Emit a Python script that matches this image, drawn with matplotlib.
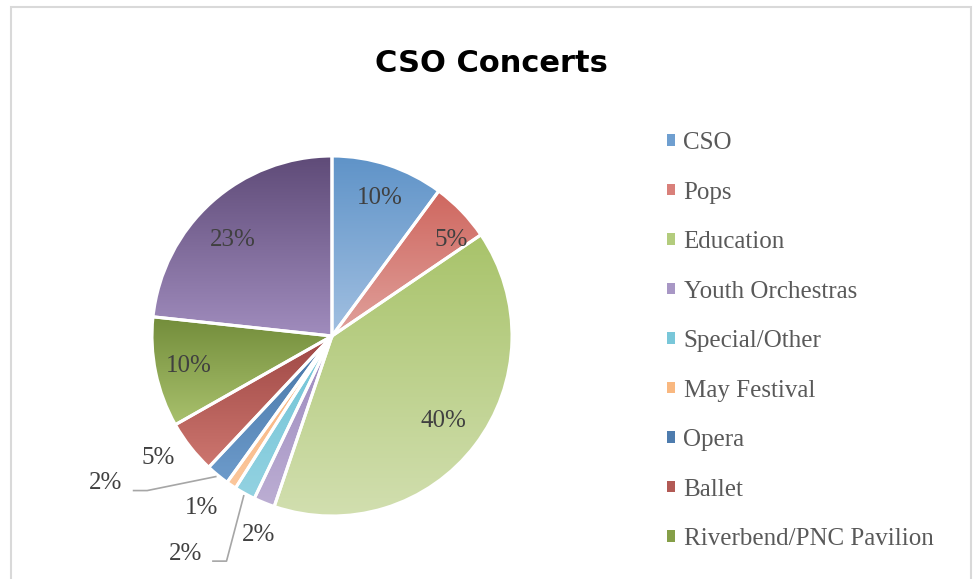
import numpy as np
import matplotlib
matplotlib.use("Agg")
import matplotlib.pyplot as plt
from matplotlib.colors import LinearSegmentedColormap
from matplotlib.patches import Rectangle

# slices, clockwise from 12 o'clock
categories = ["CSO", "Pops", "Education", "Youth Orchestras", "Special/Other",
              "May Festival", "Opera", "Ballet", "Riverbend/PNC Pavilion", "Other"]
shares = [10.1, 5.4, 39.7, 1.9, 1.9, 0.9, 2.1, 4.8, 9.9, 23.3]
n_legend = 9  # the last legend entry is cut off in the original

# (top colour, bottom colour) of each slice's vertical gradient
grad_colors = [
    ("#5f93c8", "#a2c0e1"),
    ("#cf675f", "#e0a19c"),
    ("#a8c36a", "#d2dfb0"),
    ("#9a86bd", "#bcaed3"),
    ("#6fc3d6", "#93d2e1"),
    ("#f7ad73", "#fbc79c"),
    ("#4675a6", "#6d9bcb"),
    ("#9e4744", "#cd766f"),
    ("#738d3b", "#a9c16d"),
    ("#5f4b78", "#a08cbd"),
]
legend_colors = ["#6f9fd0", "#d9807a", "#b3cc7d", "#a897c5", "#79c7d9",
                 "#f9b880", "#4e7cae", "#b25a55", "#859f48"]

# label placement: radius (pie radii), clockwise shift from slice middle (deg),
# and whether a leader line is drawn
label_r = [0.81, 0.85, 0.78, 1.18, 1.46, 1.2, 1.5, 1.18, 0.81, 0.77]
label_shift = [1, 5, 0, -2, 5, 3, 17.5, 3, 0, -4]
leader = [False, False, False, False, True, False, True, False, False, False]

W, H = 976, 579
fig = plt.figure(figsize=(W / 100, H / 100), dpi=100)

# chart frame
fig.add_artist(Rectangle((11 / W, -0.05), 960 / W, 1 - 7 / H + 0.05,
                         transform=fig.transFigure, fill=False,
                         edgecolor="#d9d9d9", linewidth=1.5))

fig.text(491 / W, 1 - 63 / H, "CSO Concerts", ha="center", va="center",
         fontsize=22, fontweight="bold", family="DejaVu Sans", color="black")

cx, cy, R = 332, 243, 180
ax = fig.add_axes([(cx - 1.6 * R) / W, (cy - 1.6 * R) / H, 3.2 * R / W, 3.2 * R / H])
ax.set_aspect("equal")
ax.axis("off")

wedges, _ = ax.pie(shares, startangle=90, counterclock=False, radius=1.0,
                   colors=[c[1] for c in grad_colors],
                   wedgeprops=dict(edgecolor="white", linewidth=2.2))

serif = ["Liberation Serif", "DejaVu Serif"]
for w, (c_top, c_bot), lr, sh, ld, v in zip(wedges, grad_colors, label_r,
                                            label_shift, leader, shares):
    # gradient fill clipped to the wedge
    verts = w.get_patch_transform().transform(w.get_path().vertices)
    x0, x1 = verts[:, 0].min(), verts[:, 0].max()
    y0, y1 = verts[:, 1].min(), verts[:, 1].max()
    cmap = LinearSegmentedColormap.from_list("g", [c_bot, c_top])
    grad = np.linspace(0, 1, 256).reshape(-1, 1)
    im = ax.imshow(grad, cmap=cmap, origin="lower", aspect="auto",
                   extent=[x0, x1, y0, y1], zorder=1.5, interpolation="bilinear")
    im.set_clip_path(w)
    w.set_facecolor("none")
    w.set_zorder(2)

    mid = np.deg2rad((w.theta1 + w.theta2) / 2)
    ang = mid - np.deg2rad(sh)
    lx, ly = lr * np.cos(ang), lr * np.sin(ang)
    ax.text(lx, ly, "%.0f%%" % v, ha="center", va="center", fontsize=18,
            family=serif, color="#404040", zorder=4)
    if ld:
        sx, sy = 1.01 * np.cos(mid), 1.01 * np.sin(mid)
        ex, ey = lx + 0.15, ly - 0.04
        kx = ex + 0.08
        ax.plot([sx, kx, ex], [sy, ey, ey], color="#a6a6a6", linewidth=1.2,
                zorder=3, solid_capstyle="butt")

ax.set_xlim(-1.6, 1.6)
ax.set_ylim(-1.6, 1.6)

handles = [Rectangle((0, 0), 1, 1, facecolor=c) for c in legend_colors]
leg = fig.legend(handles, categories[:n_legend], loc="upper left",
                 bbox_to_anchor=(667 / W, 1 - 132 / H), frameon=False,
                 prop=dict(family=serif, size=18), labelcolor="#595959",
                 handlelength=0.33, handleheight=0.33, handletextpad=0.33,
                 labelspacing=1.1, borderpad=0, borderaxespad=0)

fig.savefig("out.png", dpi=100, facecolor="white")
